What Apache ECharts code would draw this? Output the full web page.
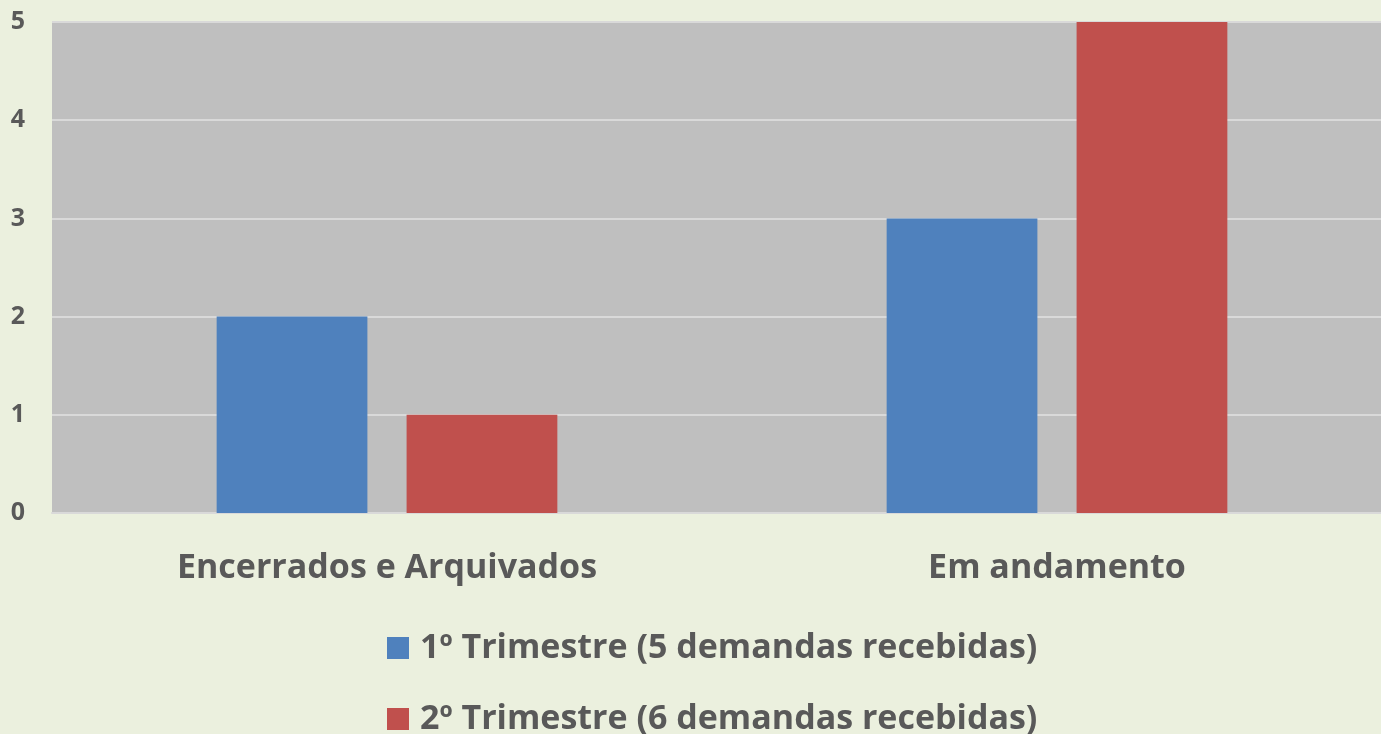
<!DOCTYPE html>
<html><head><meta charset="utf-8">
<script src="https://cdn.jsdelivr.net/npm/echarts@6/dist/echarts.min.js"></script>
<style>html,body{margin:0;padding:0;background:#ebf0de;}#c{width:1381px;height:734px;}</style>
</head><body><div id="c"></div>
<script>
var categories = ['Encerrados e Arquivados', 'Em andamento'];
var seriesNames = ['1º Trimestre (5 demandas recebidas)', '2º Trimestre (6 demandas recebidas)'];
var q1Values = [2, 3];
var q2Values = [1, 5];
var yTicks = [0, 1, 2, 3, 4, 5];

var font = '"Open Sans", Lato, sans-serif';
var legendText = {fontFamily: font, fontWeight: 'bold', fontSize: 34, color: '#595959', padding: [0, 0, 0, 6]};
var chart = echarts.init(document.getElementById('c'));
chart.setOption({
  backgroundColor: '#ebf0de',
  animation: false,
  grid: {left: 52, width: 1340, top: 22, height: 491, outerBoundsMode: 'none', containLabel: false, show: true, backgroundColor: '#bfbfbf', borderWidth: 0},
  legend: [
    {left: 382, top: 626, itemWidth: 22, itemHeight: 22, icon: 'rect', textStyle: legendText, data: [seriesNames[0]]},
    {left: 382, top: 697, itemWidth: 22, itemHeight: 22, icon: 'rect', textStyle: legendText, data: [seriesNames[1]]}
  ],
  xAxis: {
    type: 'category', data: categories,
    axisLine: {show: true, lineStyle: {color: '#d9d9d9', width: 2}},
    axisTick: {show: false},
    axisLabel: {fontFamily: font, fontWeight: 'bold', fontSize: 34, color: '#595959', margin: 38}
  },
  yAxis: {
    type: 'value', min: yTicks[0], max: yTicks[yTicks.length - 1], interval: 1,
    axisLine: {show: false}, axisTick: {show: false},
    splitLine: {lineStyle: {color: '#d9d9d9', width: 2}},
    axisLabel: {fontFamily: font, fontWeight: 'bold', fontSize: 25, color: '#595959', margin: 27, align: 'right'}
  },
  series: [
    {name: seriesNames[0], type: 'bar', data: q1Values, barWidth: '22.5%', barGap: '26%', itemStyle: {color: '#4f81bd'}},
    {name: seriesNames[1], type: 'bar', data: q2Values, barWidth: '22.5%', barGap: '26%', itemStyle: {color: '#c0504d'}}
  ]
});
</script></body></html>
